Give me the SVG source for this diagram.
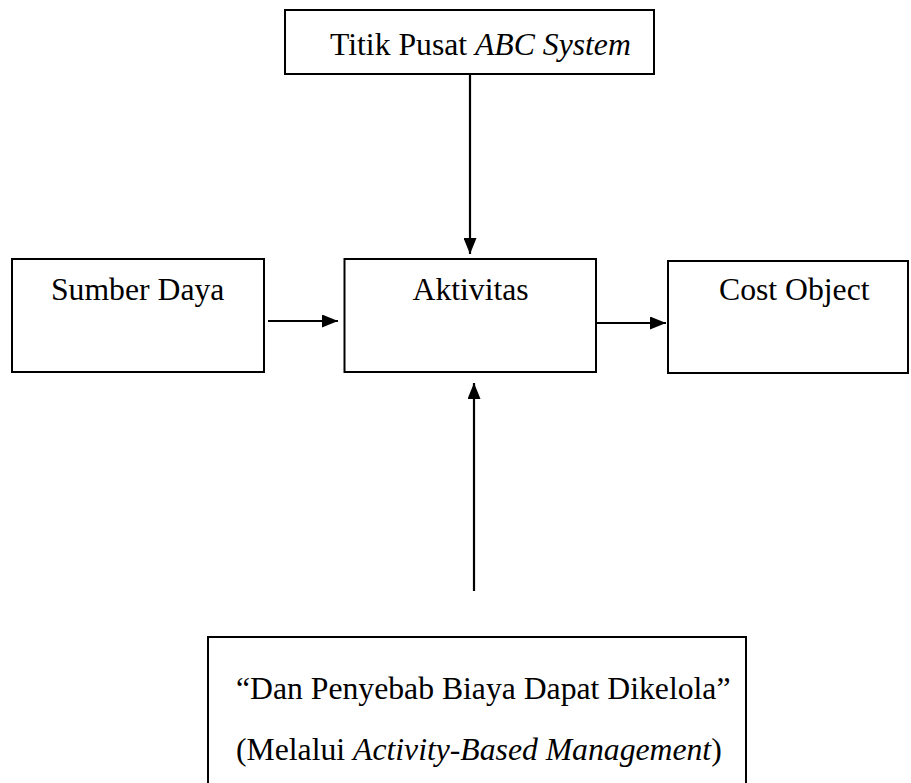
<svg xmlns="http://www.w3.org/2000/svg" width="911" height="783" viewBox="0 0 911 783">
<style>
.box{fill:#fff;stroke:#000;stroke-width:2}
.t{font-family:"Liberation Serif","Times New Roman",serif;font-size:31.7px;fill:#000}
.i{font-style:italic}
.c{stroke:#000;stroke-width:2.2;fill:none;marker-end:url(#ah)}
</style>
<defs>
<marker id="ah" markerUnits="userSpaceOnUse" markerWidth="16" markerHeight="13" refX="16" refY="6.5" orient="auto">
<path d="M0,0 L16,6.5 L0,13 z" fill="#000"/>
</marker>
</defs>
<rect width="911" height="783" fill="#fff"/>
<g id="connectors">
<line class="c" x1="470" y1="74" x2="470" y2="254"/>
<line class="c" x1="268" y1="321" x2="338" y2="321"/>
<line class="c" x1="597" y1="323" x2="666" y2="323"/>
<line class="c" x1="474" y1="591" x2="474" y2="383"/>
</g>
<g id="titik">
<rect class="box" x="285" y="10" width="369" height="64"/>
<text class="t" x="330" y="55">Titik Pusat <tspan class="i">ABC System</tspan></text>
</g>
<g id="sumber">
<rect class="box" x="12" y="259" width="252" height="113"/>
<text class="t" x="51" y="300">Sumber Daya</text>
</g>
<g id="aktivitas">
<rect class="box" x="344.5" y="259" width="251.5" height="113"/>
<text class="t" x="412.5" y="300">Aktivitas</text>
</g>
<g id="cost">
<rect class="box" x="668" y="261" width="240" height="112"/>
<text class="t" x="719" y="300">Cost Object</text>
</g>
<g id="penyebab">
<rect class="box" x="208" y="637" width="538" height="170"/>
<text class="t" x="236" y="699">“Dan Penyebab Biaya Dapat Dikelola”</text>
<text class="t" x="236" y="760">(Melalui <tspan class="i">Activity-Based Management</tspan>)</text>
</g>
</svg>
